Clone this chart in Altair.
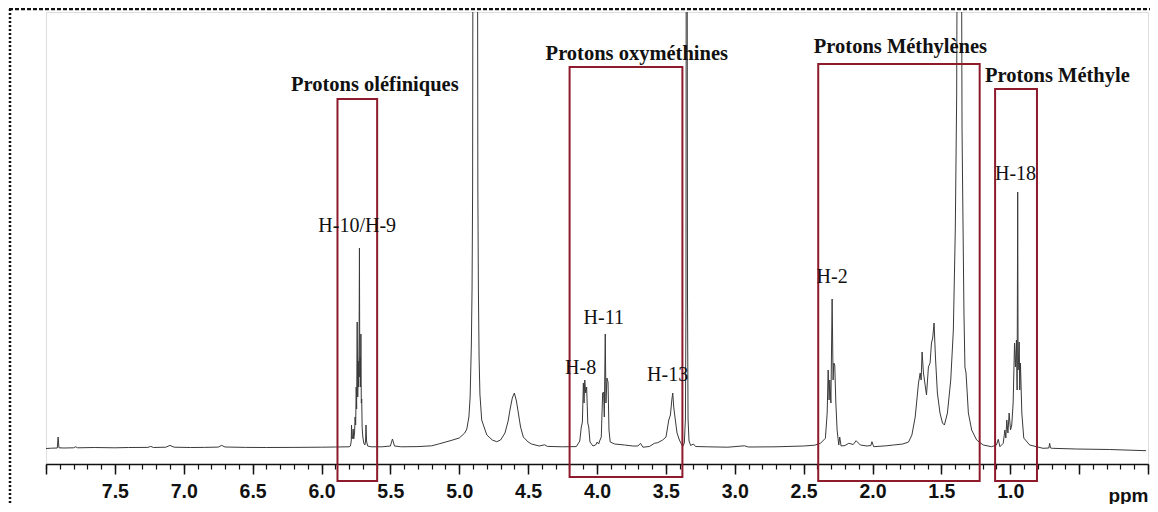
import altair as alt
import pandas as pd

# ---------------- spectrum (ppm, relative intensity)
ppm = [8.000, 7.960, 7.918, 7.912, 7.906, 7.870, 7.800, 7.785, 7.770, 7.650,
       7.500, 7.400, 7.260, 7.240, 7.220, 7.130, 7.100, 7.070, 6.950, 6.850,
       6.750, 6.725, 6.700, 6.550, 6.400, 6.200, 6.000, 5.900, 5.800, 5.790,
       5.784, 5.782, 5.779, 5.774, 5.770, 5.766, 5.760, 5.756, 5.752, 5.748,
       5.745, 5.741, 5.737, 5.733, 5.730, 5.727, 5.7245, 5.722, 5.719, 5.717,
       5.714, 5.711, 5.708, 5.705, 5.700, 5.693, 5.685, 5.680, 5.677, 5.673,
       5.665, 5.640, 5.560, 5.500, 5.485, 5.470, 5.420, 5.300, 5.200, 5.150,
       5.060, 5.000, 4.960, 4.945, 4.930, 4.921, 4.912, 4.907, 4.903, 4.900,
       4.868, 4.865, 4.861, 4.856, 4.850, 4.837, 4.800, 4.760, 4.728, 4.700,
       4.668, 4.645, 4.632, 4.615, 4.600, 4.585, 4.571, 4.555, 4.535, 4.500,
       4.475, 4.420, 4.380, 4.360, 4.250, 4.150, 4.125, 4.114, 4.106, 4.099,
       4.094, 4.089, 4.082, 4.075, 4.067, 4.060, 4.051, 4.029, 4.010, 3.998,
       3.988, 3.978, 3.969, 3.959, 3.952, 3.947, 3.940, 3.935, 3.928, 3.920,
       3.913, 3.904, 3.872, 3.800, 3.740, 3.703, 3.684, 3.667, 3.620, 3.583,
       3.559, 3.523, 3.499, 3.479, 3.467, 3.457, 3.450, 3.443, 3.434, 3.419,
       3.402, 3.378, 3.366, 3.358, 3.354, 3.352, 3.346, 3.343, 3.339, 3.332,
       3.320, 3.300, 3.285, 3.200, 3.050, 2.930, 2.900, 2.700, 2.500, 2.420,
       2.378, 2.342, 2.329, 2.322, 2.315, 2.310, 2.302, 2.293, 2.286, 2.281,
       2.274, 2.266, 2.257, 2.245, 2.238, 2.228, 2.200, 2.172, 2.140, 2.119,
       2.088, 2.040, 2.012, 2.004, 1.991, 1.900, 1.847, 1.780, 1.738, 1.714,
       1.690, 1.666, 1.654, 1.647, 1.640, 1.630, 1.620, 1.608, 1.594, 1.582,
       1.572, 1.563, 1.553, 1.543, 1.529, 1.510, 1.492, 1.478, 1.456, 1.432,
       1.413, 1.399, 1.389, 1.383, 1.356, 1.350, 1.345, 1.336, 1.329, 1.321,
       1.304, 1.280, 1.244, 1.196, 1.136, 1.100, 1.087, 1.075, 1.051, 1.039,
       1.032, 1.025, 1.017, 1.008, 0.998, 0.989, 0.979, 0.969, 0.962, 0.955,
       0.950, 0.946, 0.943, 0.935, 0.931, 0.926, 0.916, 0.902, 0.859, 0.762,
       0.720, 0.714, 0.708, 0.694, 0.521, 0.280, 0.014]
intensity = [0.5, 0.8, 1.0, 12, 1.2, 1.0, 1.2, 2.2, 1.2, 1.5,
             1.2, 1.5, 1.6, 2.6, 1.5, 1.8, 3.6, 1.8, 1.5, 1.6,
             1.9, 3.6, 2.0, 1.6, 1.5, 1.6, 1.8, 2.0, 2.2, 3.0,
             8, 24, 10, 12, 20, 10, 16, 32, 24, 62,
             40, 127, 52, 88, 62, 112, 201, 72, 92, 62,
             115, 46, 50, 22, 12, 6, 4, 8, 24, 8,
             3, 2.2, 2.2, 3.0, 10, 3.0, 2.2, 2.4, 3.2, 5,
             8.5, 11, 16, 20, 32, 52, 105, 160, 260, 600,
             600, 260, 160, 92, 55, 29, 14, 9, 7.3, 9,
             16, 28, 39, 51, 56, 48, 36, 22, 12, 7,
             5, 3, 4.2, 2.6, 2.2, 2.4, 8, 22, 27, 66,
             46, 69, 56, 62, 26, 22, 7, 3, 4, 7,
             5, 9, 12, 56, 57, 32, 115, 46, 71, 67,
             19, 7, 5, 4, 3, 3, 5.7, 1.8, 2.5, 5.7,
             6.3, 9, 12, 29, 34, 49, 56, 42, 32, 16,
             9, 2.5, 6, 30, 150, 600, 600, 150, 30, 8,
             3.5, 5, 2.5, 2.2, 1.8, 3.2, 2.0, 2.2, 3.0, 3.8,
             5.7, 10.7, 36, 79, 49, 69, 46, 150, 69, 86,
             84, 46, 19, 4, 12, 3, 3.5, 5.7, 4.5, 8.3,
             4, 3, 3.5, 7.3, 2.3, 3.2, 4, 5, 7, 14,
             32, 66, 76, 69, 97, 76, 66, 54, 82, 86,
             106, 111, 126, 92, 56, 36, 26, 24, 36, 69,
             119, 219, 352, 600, 600, 320, 252, 136, 82, 76,
             36, 19, 9, 4, 2.3, 4, 9.7, 2.3, 5.7, 19,
             11, 29, 16, 36, 19, 24, 46, 106, 82, 109,
             59, 257, 79, 107, 59, 86, 36, 11, 4, 0.7,
             1, 5.7, 1, 0.7, 0, -0.5, -1.7]

# ---------------- region boxes and their titles
box_names = ["Protons oléfiniques", "Protons oxyméthines", "Protons Méthylènes", "Protons Méthyle"]
box_left = [5.884, 4.199, 2.394, 1.110]
box_right = [5.596, 3.380, 1.222, 0.806]
box_top = [350, 382, 385, 360]
box_bottom = [-32, -28, -32, -32]
title_x = [5.613, 3.711, 1.797, 0.658]
title_y = [364, 395, 402, 373]

# ---------------- peak labels
peak_labels = ["H-10/H-9", "H-11", "H-8", "H-13", "H-2", "H-18"]
peak_x = [5.741, 3.951, 4.119, 3.487, 2.293, 0.962]
peak_y = [223, 131, 81, 74, 172, 275]

# ---------------- axis ticks
major_ticks = [8.0, 7.5, 7.0, 6.5, 6.0, 5.5, 5.0, 4.5, 4.0, 3.5, 3.0, 2.5, 2.0, 1.5, 1.0, 0.5, 0.0]
minor_ticks = [round(i / 10, 1) for i in range(0, 81)]

W, H = 1102, 452
xscale = alt.Scale(domain=[8.0, 0.0], nice=False, zero=False)
yscale = alt.Scale(domain=[-15, 437], nice=False, zero=False)

spec = pd.DataFrame({"ppm": ppm, "v": intensity})
boxes = pd.DataFrame({"name": box_names, "x1": box_left, "x2": box_right,
                      "y1": box_top, "y2": box_bottom, "tx": title_x, "ty": title_y})
peaks = pd.DataFrame({"label": peak_labels, "x": peak_x, "y": peak_y})

major_axis = alt.Axis(
    values=major_ticks, orient="bottom", grid=False,
    labelExpr="datum.value > 0.9 && datum.value < 7.6 ? format(datum.value, '.1f') : ''",
    labelFont="Liberation Sans", labelFontWeight="bold", labelFontSize=19.5, labelColor="#111",
    labelPadding=8, labelFlush=False, labelOverlap=False,
    tickSize=10, tickWidth=1.5, tickColor="#111", domainColor="#111", domainWidth=1.5,
    title="ppm", titleFont="Liberation Sans", titleFontWeight="bold", titleFontSize=19,
    titleColor="#111", titleX=W, titleY=37, titleAlign="right", titleAnchor="end",
    titleBaseline="alphabetic",
)
minor_axis = alt.Axis(
    values=minor_ticks, orient="bottom", grid=False, labels=False, domain=False,
    tickSize=5, tickWidth=1.2, tickColor="#111", title=None,
)

line = alt.Chart(spec).mark_line(color="#3a3a3a", strokeWidth=1, clip=True).encode(
    x=alt.X("ppm:Q", scale=xscale, axis=major_axis),
    y=alt.Y("v:Q", scale=yscale, axis=None),
    order="ppm:Q",
)

rects = alt.Chart(boxes).mark_rect(fillOpacity=0, stroke="#8e1b2b", strokeWidth=2).encode(
    x=alt.X("x1:Q", scale=xscale, axis=minor_axis),
    x2="x2:Q",
    y=alt.Y("y1:Q", scale=yscale, axis=None),
    y2="y2:Q",
)

titles = alt.Chart(boxes).mark_text(
    font="Liberation Serif", fontWeight="bold", fontSize=20.5, color="#111", baseline="middle"
).encode(
    x=alt.X("tx:Q", scale=xscale, axis=None),
    y=alt.Y("ty:Q", scale=yscale, axis=None),
    text="name:N",
)

plabels = alt.Chart(peaks).mark_text(
    font="Liberation Serif", fontSize=20, color="#111", baseline="middle"
).encode(
    x=alt.X("x:Q", scale=xscale, axis=None),
    y=alt.Y("y:Q", scale=yscale, axis=None),
    text="label:N",
)

frame_df = pd.DataFrame({"k": [0]})
frame_top = alt.Chart(frame_df).mark_rule(color="#111", strokeWidth=2.5, strokeDash=[4, 2]).encode(
    x=alt.value(-37), x2=alt.value(W + 10), y=alt.value(-3)
)
frame_left = alt.Chart(frame_df).mark_rule(color="#111", strokeWidth=2.5, strokeDash=[2, 2]).encode(
    x=alt.value(-36), y=alt.value(-3), y2=alt.value(H + 50)
)

chart = alt.layer(line, rects, titles, plabels, frame_top, frame_left).resolve_axis(
    x="independent"
).properties(
    width=W, height=H,
    autosize=alt.AutoSizeParams(type="none"),
    padding={"left": 38, "top": 4, "right": 2, "bottom": 40},
).configure_view(stroke=None).configure(background="white")

chart.save("out.html", embed_options={"renderer": "svg", "actions": False})
